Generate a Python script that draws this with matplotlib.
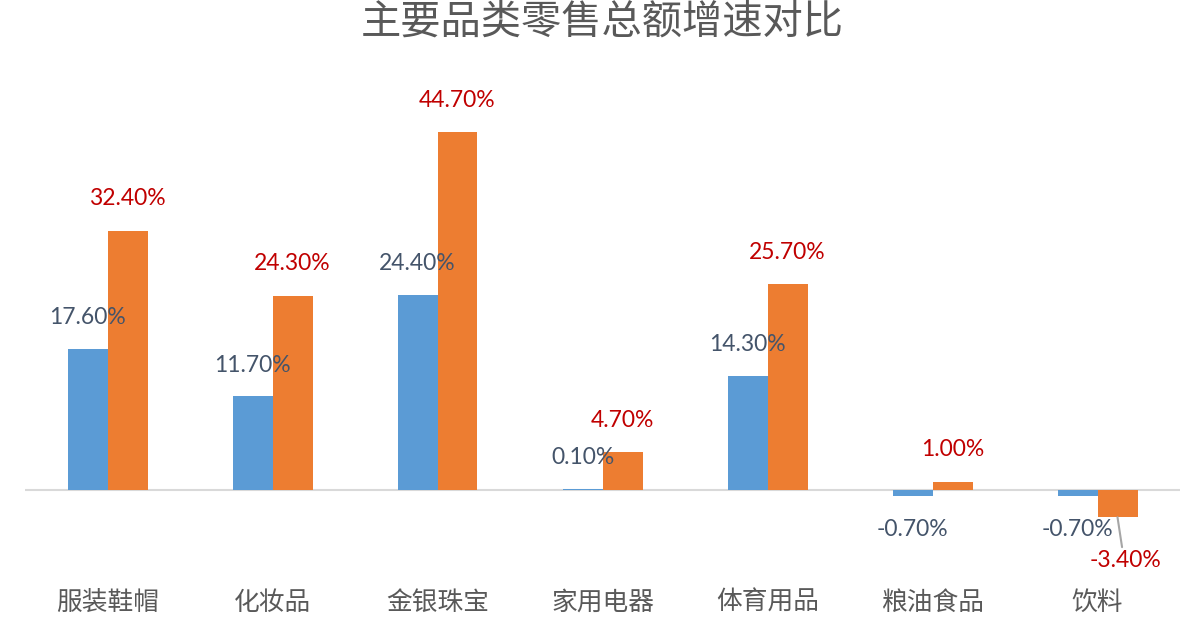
import matplotlib

matplotlib.use("Agg")
from matplotlib import pyplot as plt
import numpy as np

plt.rcParams["font.family"] = ["Noto Sans CJK SC", "DejaVu Sans"]

categories = ["服装鞋帽", "化妆品", "金银珠宝", "家用电器", "体育用品", "粮油食品", "饮料"]
growth_a = [17.6, 11.7, 24.4, 0.1, 14.3, -0.7, -0.7]
growth_b = [32.4, 24.3, 44.7, 4.7, 25.7, 1.0, -3.4]

blue = "#5B9BD5"
orange = "#ED7D31"
num_font = ["Lato", "DejaVu Sans"]

fig = plt.figure(figsize=(11.9, 6.38), dpi=100)
ax = fig.add_axes([25 / 1190, 44 / 638, 1155 / 1190, 504 / 638])

x = np.arange(len(categories))
w = 40 / 165
ax.bar(x - w / 2, growth_a, w, color=blue, zorder=2)
ax.bar(x + w / 2, growth_b, w, color=orange, zorder=2)
ax.axhline(0, color="#D9D9D9", lw=1.5, zorder=1)

ax.set_xlim(-0.5, len(categories) - 0.5)
ax.set_ylim(-13, 50)

# 数据标签
for xi, v in zip(x, growth_a):
    off = 3.9 if v >= 0 else -4.2
    ax.text(xi - w / 2, v + off, f"{v:.2f}%", ha="center", va="center",
            fontsize=16.5, color="#44546A", family=num_font)
for xi, v in zip(x, growth_b):
    if v >= 0:
        ax.text(xi + w / 2, v + 4.0, f"{v:.2f}%", ha="center", va="center",
                fontsize=16.5, color="#C00000", family=num_font)
    else:
        # 负值标签带引导线
        ax.annotate(f"{v:.2f}%", xy=(xi + w / 2, v), xytext=(xi + w / 2 + 0.05, v - 5.4),
                    ha="center", va="center", fontsize=16.5, color="#C00000",
                    family=num_font,
                    arrowprops=dict(arrowstyle="-", color="#A6A6A6", lw=1.5,
                                    shrinkA=0, shrinkB=0, relpos=(0.45, 1.1)))

ax.set_xticks(x)
ax.set_xticklabels(categories, fontsize=18.5, color="#595959")
ax.tick_params(axis="x", length=0, pad=-3)
ax.set_yticks([])
for s in ax.spines.values():
    s.set_visible(False)

fig.text(602 / 1190, 1 - 22 / 638, "主要品类零售总额增速对比", ha="center", va="center",
         fontsize=29, color="#595959")

fig.savefig("out.png", dpi=100)
